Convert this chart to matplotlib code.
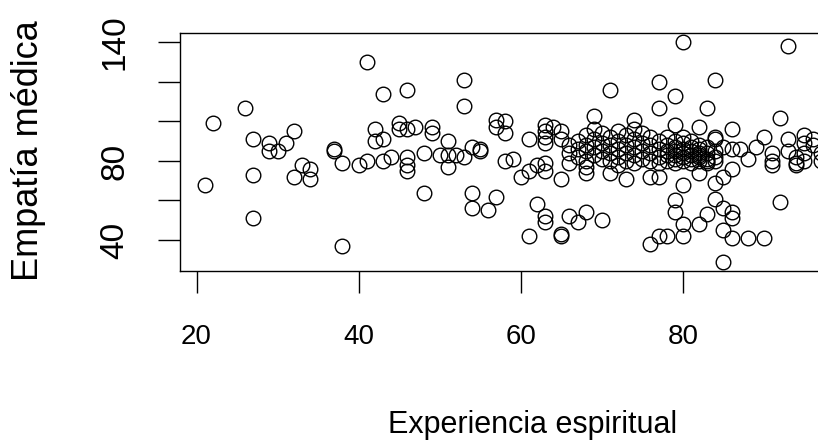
import numpy as np
import matplotlib
matplotlib.use("Agg")
import matplotlib.pyplot as plt

plt.rcParams['font.family'] = ['Liberation Sans', 'DejaVu Sans']

# puntos dispersos (experiencia espiritual, empatia medica)
x_sparse = [21, 22, 26, 27, 27, 27, 29, 29, 30, 31, 32, 33, 32, 34, 34, 37, 37, 38, 38, 40,
            41, 41, 42, 42, 43, 43, 43, 44, 45, 45, 46, 46, 46, 46, 46, 47, 48, 48, 49, 49,
            50, 51, 51, 51, 52, 53, 53, 53, 54, 54, 54, 55, 55, 56, 57, 57, 57, 58, 58, 58,
            59, 60, 61, 61, 62, 62, 61, 63, 63, 63, 63, 63, 63, 63, 63, 64, 65, 65, 65, 65,
            65, 66, 66, 67, 68, 68, 68, 70, 69, 74, 71, 71, 73, 76, 77, 77, 76, 77, 79, 79,
            80, 82, 84, 83, 86, 84, 90, 92, 93, 95, 93, 95, 91, 94, 95, 95, 91, 80, 77, 82,
            84, 84, 86, 79, 79, 80, 80, 78, 82, 83, 85, 86, 86, 85, 86, 88, 90, 85, 92, 85]
y_sparse = [68, 99, 107, 91, 73, 51, 89, 85, 85, 89, 95, 78, 72, 76, 71, 86, 85, 79, 37, 78,
            130, 80, 96, 90, 91, 114, 80, 82, 99, 96, 96, 116, 82, 78, 75, 97, 84, 64, 97, 94,
            83, 90, 83, 77, 83, 121, 108, 82, 87, 64, 56, 86, 85, 55, 101, 97, 62, 100, 94, 80,
            81, 72, 91, 75, 78, 58, 42, 98, 95, 92, 89, 79, 75, 52, 49, 97, 95, 91, 71, 43,
            42, 79, 52, 49, 54, 77, 74, 50, 103, 101, 116, 74, 71, 72, 120, 107, 38, 42, 113, 98,
            140, 97, 121, 107, 96, 92, 92, 102, 138, 93, 91, 89, 78, 78, 80, 84, 84, 68, 72, 74,
            69, 61, 76, 60, 54, 48, 42, 42, 48, 53, 56, 54, 51, 45, 41, 41, 41, 29, 59, 72]

# nube densa central
x_dense = [66, 66, 67, 67, 67, 68, 68, 68, 68, 69, 69, 69, 69, 70, 70, 70, 70, 71, 71, 71, 71,
           72, 72, 72, 72, 72, 73, 73, 73, 73, 74, 74, 74, 74, 74, 75, 75, 75, 75, 76, 76, 76, 76,
           77, 77, 77, 77, 78, 78, 78, 78, 78, 79, 79, 79, 79, 79, 79, 80, 80, 80, 80, 80, 80,
           81, 81, 81, 81, 81, 81, 82, 82, 82, 82, 82, 83, 83, 83, 83, 84, 84, 84,
           86, 87, 89, 88, 91, 94, 94, 93, 85, 84, 82, 83, 96, 97, 97, 96]
y_dense = [88, 84, 90, 86, 82, 93, 88, 85, 80, 96, 91, 87, 83, 94, 89, 85, 81, 92, 88, 84, 80,
           95, 90, 86, 82, 78, 93, 88, 84, 80, 96, 91, 87, 83, 79, 94, 89, 85, 81, 92, 88, 84, 80,
           90, 86, 82, 79, 92, 88, 85, 83, 80, 90, 87, 85, 83, 81, 79, 92, 89, 86, 84, 82, 80,
           90, 87, 85, 83, 81, 79, 88, 86, 84, 82, 80, 87, 84, 81, 79, 85, 82, 80,
           86, 86, 87, 81, 80, 79, 82, 85, 87, 91, 83, 80, 88, 80, 84, 91]

x_ticks = [20, 40, 60, 80]
x_labels = ["20", "40", "60", "80"]
y_ticks = [40, 60, 80, 100, 120, 140]
y_labels = ["40", "", "80", "", "", "140"]

x_vals = np.array(x_sparse + x_dense)
y_vals = np.array(y_sparse + y_dense)

W, H = 818, 444
fig = plt.figure(figsize=(W / 100, H / 100), dpi=100)
# caja del grafico en pixeles (la derecha queda fuera de la imagen)
left, right, top, bottom = 179.5, 858, 33, 271
ax = fig.add_axes([left / W, (H - bottom) / H, (right - left) / W, (bottom - top) / H])

ax.plot(x_vals, y_vals, "o", mfc="none", mec="black", ms=10.5, mew=1.0)
ax.set_xlim(17.9, 101.6)
ax.set_ylim(24.3, 144.8)

ax.set_xticks(x_ticks)
ax.set_yticks(y_ticks)
ax.set_xticklabels([])
ax.set_yticklabels([])
ax.tick_params(length=16, width=1.0, direction="out", color="black")
for s in ax.spines.values():
    s.set_linewidth(1.0)

# etiquetas de los ticks, colocadas a mano (pixeles)
hb = bottom - top
for t, lab in zip(x_ticks, x_labels):
    ax.text(t, (bottom - 337) / hb, lab, transform=ax.get_xaxis_transform(),
            ha="center", va="center", fontsize=20)
for t, lab in zip(y_ticks, y_labels):
    ax.text((115 - left) / (right - left), t, lab, transform=ax.get_yaxis_transform(),
            ha="center", va="center", rotation=90, fontsize=24)

fig.text(533 / W, 1 - 425 / H, "Experiencia espiritual", ha="center", va="center",
         fontsize=22)
fig.text(29 / W, 1 - 151 / H, "Empatía médica", ha="center", va="center",
         rotation=90, fontsize=26)

fig.savefig("out.png", dpi=100)
